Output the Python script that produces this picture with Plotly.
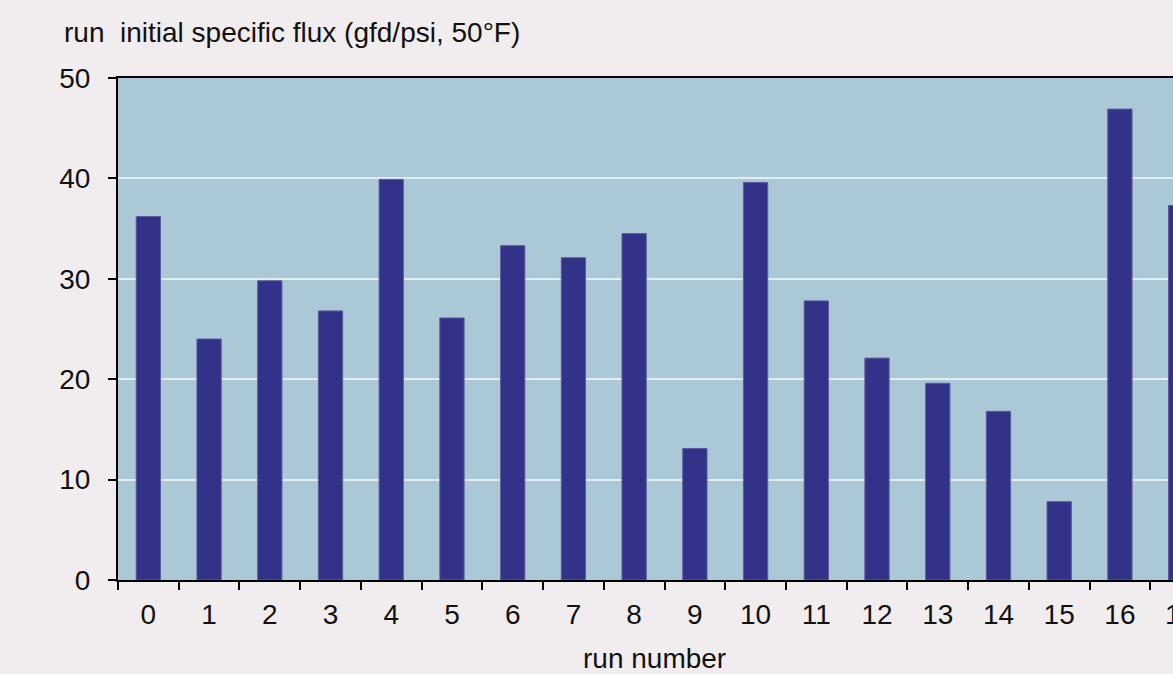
import plotly.graph_objects as go

runs = [str(i) for i in range(18)]
flux = [36.2, 24.0, 29.8, 26.8, 39.9, 26.1, 33.3, 32.1, 34.5, 13.1,
        39.6, 27.8, 22.1, 19.6, 16.8, 7.8, 46.9, 37.3]
y_ticks = [0, 10, 20, 30, 40, 50]

FONT = "Liberation Sans, Arial, sans-serif"
BG = "#F1EDEE"
W, H = 1211, 674
L, T, B = 118, 78, 94
PW, PH = W - L, H - T - B

fig = go.Figure(go.Bar(
    x=runs, y=flux,
    marker=dict(color="#323288", line=dict(color="#5b5ba0", width=1)),
    width=0.4,
))

fig.update_layout(
    width=W, height=H,
    margin=dict(l=L, r=0, t=T, b=B),
    paper_bgcolor=BG,
    plot_bgcolor="#ABC8D6",
    showlegend=False,
    font=dict(family=FONT, size=28, color="#111111"),
    title=dict(text="run\u00a0 initial specific flux (gfd/psi, 50°F)",
               xref="container", yref="container",
               x=64/W, xanchor="left", y=1-32/H, yanchor="middle",
               font=dict(family=FONT, size=28, color="#111111")),
    annotations=[dict(text="run number", xref="paper", yref="paper",
                      x=(654-L)/PW, y=-(658-(T+PH))/PH,
                      xanchor="center", yanchor="middle", showarrow=False,
                      font=dict(family=FONT, size=28, color="#111111"))],
)

fig.update_xaxes(
    type="category", range=[-0.5, 17.5],
    showline=True, linecolor="black", linewidth=2, mirror=True,
    ticks="outside", tickson="boundaries", ticklen=8, tickwidth=2,
    tickcolor="black", showgrid=False, ticklabelstandoff=8,
)
fig.update_yaxes(
    range=[0, 50], tickvals=y_ticks,
    showline=True, linecolor="black", linewidth=2,
    ticks="outside", ticklen=8, tickwidth=2, tickcolor="black",
    showgrid=True, gridcolor="#E2ECF1", gridwidth=1.5,
    zeroline=False, ticklabelstandoff=12,
)

fig.write_html(
    "out.html",
    config={"displayModeBar": False},
    post_script="document.body.style.margin='0';"
                "document.body.style.background='" + BG + "';"
                "document.body.style.overflow='hidden';"
                "document.documentElement.style.overflow='hidden';",
)
